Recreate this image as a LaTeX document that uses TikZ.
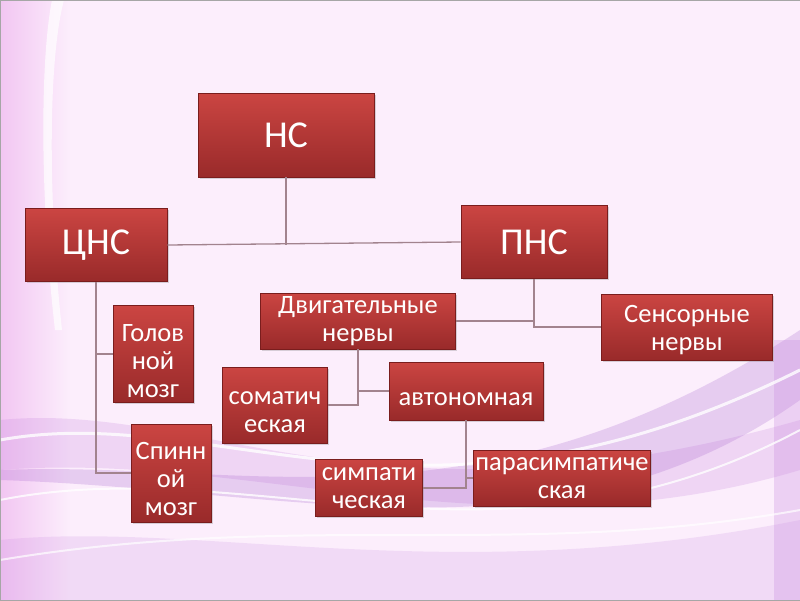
\documentclass[tikz,border=0pt]{standalone}
\usepackage{fontspec}
\setmainfont{Carlito}
\usepackage{tikz}
\usetikzlibrary{positioning, shadows}

\definecolor{bgpink}{HTML}{FCEEFC}
\definecolor{edgepink}{HTML}{F2C6F2}
\definecolor{swirl}{HTML}{C98BE0}
\definecolor{swirldark}{HTML}{A868D0}
\definecolor{boxtop}{HTML}{CB4542}
\definecolor{boxbot}{HTML}{992A2A}
\definecolor{boxline}{HTML}{7A1D1D}
\definecolor{linkcol}{HTML}{A2838E}

% taller first line, pushes the text down in the box
\newcommand{\topgap}[1]{\rule{0pt}{#1pt}}

\tikzset{
  bigbox/.style={draw=boxline, line width=0.6pt, top color=boxtop, bottom color=boxbot,
    text=white, align=center, inner sep=2pt,
    drop shadow={opacity=0.3, shadow xshift=1.5pt, shadow yshift=-1.5pt},
    font=\fontsize{38}{42}\selectfont},
  box/.style={bigbox, font=\fontsize{26.5}{28}\selectfont},
  link/.style={draw=linkcol, line width=1.3pt}
}

\begin{document}
\begin{tikzpicture}[x=1pt, y=-1pt]
        % background
        \useasboundingbox (0,0) rectangle (800,600);
        \fill[bgpink] (0,0) rectangle (800,600);
        \shade[left color=edgepink, right color=bgpink] (0,0) rectangle (70,600);
        \fill[white, opacity=0.7] (52,0) .. controls (40,60) and (40,200) .. (55,330)
            -- (62,330) .. controls (48,200) and (48,60) .. (64,0) -- cycle;
        \fill[swirl, opacity=0.25] (0,420) .. controls (200,400) and (380,540) .. (800,420)
            -- (800,470) .. controls (500,560) and (250,450) .. (0,470) -- cycle;
        \fill[swirldark, opacity=0.25] (0,470) .. controls (250,460) and (480,540) .. (800,330)
            -- (800,400) .. controls (560,570) and (300,490) .. (0,480) -- cycle;
        \fill[swirl, opacity=0.2] (0,540) .. controls (200,520) and (450,590) .. (800,520)
            -- (800,600) -- (0,600) -- cycle;
        \fill[swirl, opacity=0.3] (774,340) rectangle (800,600);
        \draw[white, line width=3pt, opacity=0.8] (0,440) .. controls (220,400) and (420,560) .. (800,370);
        \draw[white, line width=2pt, opacity=0.8] (0,500) .. controls (250,450) and (500,590) .. (800,430);
        \draw[white, line width=2pt, opacity=0.7] (0,560) .. controls (300,510) and (520,560) .. (800,510);
        \draw[gray!70, line width=1pt] (0,0) rectangle (800,600);

        % boxes
        \node[bigbox, minimum width=176pt, minimum height=84pt] (ns) at (286,135) {НС};
        \node[bigbox, minimum width=142pt, minimum height=73pt] (cns) at (96,245) {ЦНС};
        \node[bigbox, minimum width=146pt, minimum height=73pt] (pns) at (534,242) {ПНС};
        \node[box, minimum width=80pt, minimum height=97pt] (golov) at (153,354) {\topgap{31}Голов\\ной\\мозг};
        \node[box, minimum width=80pt, minimum height=98pt] (spinn) at (171,473) {\topgap{30}Спинн\\ой\\мозг};
        \node[box, minimum width=195pt, minimum height=56pt] (dvig) at (358,321) {Двигательные\\нервы};
        \node[box, minimum width=171pt, minimum height=66pt] (sens) at (687,327) {\topgap{24}Сенсорные\\нервы};
        \node[box, minimum width=105pt, minimum height=76pt] (somat) at (275,405) {\topgap{28}соматич\\еская};
        \node[box, minimum width=154pt, minimum height=58pt] (avton) at (466,391) {\topgap{30}автономная};
        \node[box, minimum width=107pt, minimum height=57pt] (simp) at (369,488) {симпати\\ческая};
        \node[box, minimum width=177pt, minimum height=56pt] (paras) at (562,478) {парасимпатиче\\ская};

        % connectors
        \draw[link] (cns.east) -- (pns.west);
        \draw[link] (ns.south) -- (ns.south |- cns.east);
        \draw[link] (cns.south) |- (spinn.west);
        \draw[link] (cns.south |- golov.west) -- (golov.west);
        \draw[link] (pns.south) |- (sens.west);
        \draw[link] (dvig.east) -- (dvig.east -| pns.south);
        \draw[link] (dvig.south) |- (somat.east);
        \draw[link] (dvig.south |- avton.west) -- (avton.west);
        \draw[link] (avton.south) |- (simp.east);
        \draw[link] (avton.south |- paras.west) -- (paras.west);
\end{tikzpicture}
\end{document}
